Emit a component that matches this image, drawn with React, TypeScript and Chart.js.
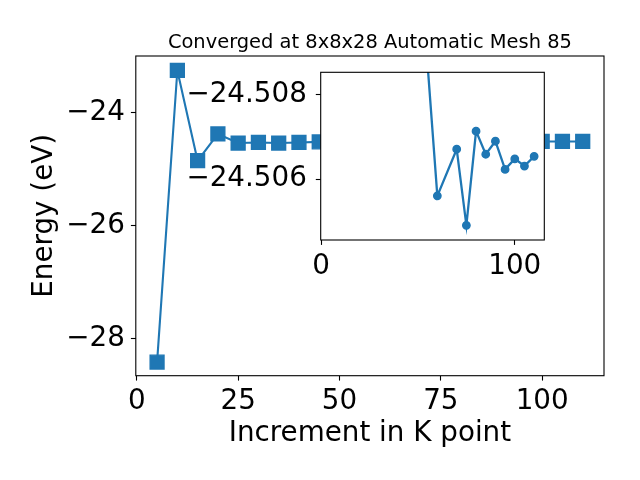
import React, { useEffect, useRef } from "react";
import { Chart, registerables } from "chart.js";

Chart.register(...registerables);

const chartTitle = "Converged at 8x8x28 Automatic Mesh 85";
const xAxisTitle = "Increment in K point";
const yAxisTitle = "Energy (eV)";

const kPoints = [5, 10, 15, 20, 25, 30, 35, 40, 45, 50, 55, 60, 70, 75, 80, 85, 90, 95, 100, 105, 110];
const energies = [
  -28.416, -23.248, -24.848, -24.374, -24.535, -24.525, -24.535, -24.525, -24.515, -24.512,
  -24.5087, -24.5056, -24.50671, -24.5049, -24.50714, -24.50659, -24.5069, -24.50623, -24.50648,
  -24.50631, -24.50654,
];
// the inset (zoom) plots the converged tail only
const insetStartK = 55;

const mainXTicks = [0, 25, 50, 75, 100];
const mainYTicks = [-28, -26, -24];
const insetXTicks = [0, 100];
const insetYTicks = [-24.508, -24.506];

const BLUE = "#1f77b4";
const FONT = "'DejaVu Sans', sans-serif";

const fmt = (v: number, d: number) => {
  const s = Math.abs(v).toFixed(d);
  return v < 0 ? "\u2212" + s : s;
};

const framePlugin = (fillWhite: boolean) => ({
  id: "frame" + (fillWhite ? "Inset" : "Main"),
  beforeDatasetsDraw(chart: any) {
    if (!fillWhite) return;
    const { left, top, right, bottom } = chart.chartArea;
    const ctx = chart.ctx;
    ctx.save();
    ctx.fillStyle = "#ffffff";
    ctx.fillRect(left, top, right - left, bottom - top);
    ctx.restore();
  },
  afterDraw(chart: any) {
    const { left, top, right, bottom } = chart.chartArea;
    const ctx = chart.ctx;
    ctx.save();
    ctx.strokeStyle = "#000";
    ctx.lineWidth = 1.1;
    ctx.strokeRect(left, top, right - left, bottom - top);
    ctx.restore();
  },
});

const titlePlugin = {
  id: "mplTitle",
  afterDraw(chart: any) {
    const { left, right } = chart.chartArea;
    const ctx = chart.ctx;
    ctx.save();
    ctx.fillStyle = "#000";
    ctx.font = `19.44px ${FONT}`;
    ctx.textAlign = "center";
    ctx.textBaseline = "alphabetic";
    ctx.fillText(chartTitle, (left + right) / 2, 48.3);
    ctx.restore();
  },
};

const tickGrid = () => ({
  display: true,
  drawOnChartArea: false,
  drawTicks: true,
  tickLength: 4.9,
  tickWidth: 1.1,
  tickColor: "#000",
  color: "#000",
});

const tickFont = () => ({ family: FONT, size: 27.78 });

export default function App() {
  const mainRef = useRef<HTMLCanvasElement>(null);
  const insetRef = useRef<HTMLCanvasElement>(null);

  useEffect(() => {
    const points = kPoints.map((k, i) => ({ x: k, y: energies[i] }));
    const insetPoints = points.filter((p) => p.x >= insetStartK);

    const main = new Chart(mainRef.current as HTMLCanvasElement, {
      type: "line",
      data: {
        datasets: [
          {
            data: points,
            borderColor: BLUE,
            backgroundColor: BLUE,
            borderWidth: 2.1,
            pointStyle: "rect",
            pointRadius: 9.8,
            pointBorderWidth: 1.4,
            pointBorderColor: BLUE,
            pointBackgroundColor: BLUE,
            tension: 0,
          },
        ],
      },
      options: {
        animation: false,
        responsive: false,
        layout: { padding: { left: 0, top: 56, right: 36, bottom: 0 } },
        plugins: { legend: { display: false }, tooltip: { enabled: false }, title: { display: false } },
        scales: {
          x: {
            type: "linear",
            min: -0.25,
            max: 115.25,
            afterBuildTicks: (s: any) => {
              s.ticks = mainXTicks.map((v) => ({ value: v }));
            },
            afterFit: (s: any) => {
              s.height = 104.3;
            },
            grid: tickGrid(),
            border: { display: false },
            ticks: {
              font: tickFont(),
              color: "#000",
              padding: 4.9,
              maxRotation: 0,
              autoSkip: false,
              callback: (v: any) => fmt(Number(v), 0),
            },
            title: {
              display: true,
              text: xAxisTitle,
              color: "#000",
              font: { family: FONT, size: 27.78, lineHeight: 1.2 },
              padding: { top: 0, bottom: 29.7 },
            },
          },
          y: {
            type: "linear",
            min: -28.6575,
            max: -22.9925,
            afterBuildTicks: (s: any) => {
              s.ticks = mainYTicks.map((v) => ({ value: v }));
            },
            afterFit: (s: any) => {
              s.width = 135.8;
            },
            grid: tickGrid(),
            border: { display: false },
            ticks: {
              font: tickFont(),
              color: "#000",
              padding: 6,
              autoSkip: false,
              callback: (v: any) => fmt(Number(v), 0),
            },
            title: {
              display: true,
              text: yAxisTitle,
              color: "#000",
              font: { family: FONT, size: 27.78, lineHeight: 1.2 },
              padding: { top: 28, bottom: 0 },
            },
          },
        },
      },
      plugins: [framePlugin(false), titlePlugin],
    } as any);

    const inset = new Chart(insetRef.current as HTMLCanvasElement, {
      type: "line",
      data: {
        datasets: [
          {
            data: insetPoints,
            borderColor: BLUE,
            backgroundColor: BLUE,
            borderWidth: 2.3,
            pointStyle: "circle",
            pointRadius: 3.7,
            pointBorderWidth: 1.4,
            pointBorderColor: BLUE,
            pointBackgroundColor: BLUE,
            tension: 0,
          },
        ],
      },
      options: {
        animation: false,
        responsive: false,
        layout: { padding: { left: 60.7, top: 72.3, right: 95.7, bottom: 180 } },
        plugins: { legend: { display: false }, tooltip: { enabled: false }, title: { display: false } },
        scales: {
          x: {
            type: "linear",
            min: -0.25,
            max: 115.25,
            afterBuildTicks: (s: any) => {
              s.ticks = insetXTicks.map((v) => ({ value: v }));
            },
            afterFit: (s: any) => {
              s.height = 60;
            },
            grid: tickGrid(),
            border: { display: false },
            ticks: {
              font: tickFont(),
              color: "#000",
              padding: 4.9,
              maxRotation: 0,
              autoSkip: false,
              callback: (v: any) => fmt(Number(v), 0),
            },
          },
          y: {
            type: "linear",
            reverse: true,
            min: -24.50854,
            max: -24.50455,
            afterBuildTicks: (s: any) => {
              s.ticks = insetYTicks.map((v) => ({ value: v }));
            },
            afterFit: (s: any) => {
              s.width = 260;
            },
            grid: tickGrid(),
            border: { display: false },
            ticks: {
              font: tickFont(),
              color: "#000",
              padding: 9,
              autoSkip: false,
              callback: (v: any) => fmt(Number(v), 3),
            },
          },
        },
      },
      plugins: [framePlugin(true)],
    } as any);

    return () => {
      main.destroy();
      inset.destroy();
    };
  }, []);

  const canvasStyle: React.CSSProperties = { position: "absolute", left: 0, top: 0, width: 640, height: 480 };

  return (
    <div style={{ position: "absolute", left: 0, top: 0, width: 640, height: 480, background: "#fff" }}>
      <canvas ref={mainRef} width={640} height={480} style={canvasStyle} />
      <canvas ref={insetRef} width={640} height={480} style={canvasStyle} />
    </div>
  );
}
